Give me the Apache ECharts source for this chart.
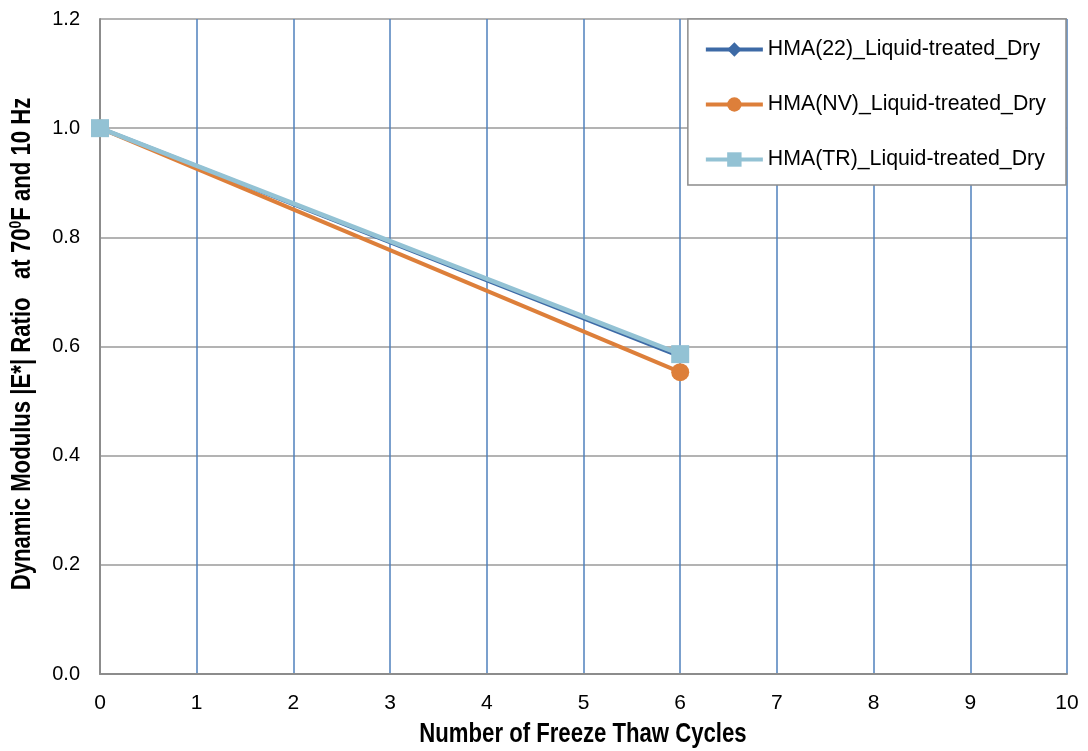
<!DOCTYPE html>
<html>
<head>
<meta charset="utf-8">
<script src="https://cdn.jsdelivr.net/npm/echarts@6/dist/echarts.min.js"></script>
<style>
  html, body { margin: 0; padding: 0; background: #fff; }
  #chart { width: 1088px; height: 751px; }
</style>
</head>
<body>
<div id="chart"></div>
<script>
// Freeze-thaw cycles and |E*| ratios for each mix
const cycles = [0, 6];
const seriesNames = [
  'HMA(22)_Liquid-treated_Dry',
  'HMA(NV)_Liquid-treated_Dry',
  'HMA(TR)_Liquid-treated_Dry'
];
const hma22 = [1.0, 0.582];
const hmaNV = [1.0, 0.553];
const hmaTR = [1.0, 0.586];

const xTicks = [0, 1, 2, 3, 4, 5, 6, 7, 8, 9, 10];
const yTicks = [0.0, 0.2, 0.4, 0.6, 0.8, 1.0, 1.2];

const xTitle = 'Number of Freeze Thaw Cycles';
const yTitleA = 'Dynamic Modulus |E*| Ratio   at 70';
const yTitleSup = '0';
const yTitleB = 'F and 10 Hz';

const font = "'Liberation Sans', Arial, sans-serif";
const narrowScale = 0.82;   // condensed look for the axis titles

function pairs(vals) {
  return cycles.map((c, i) => [c, vals[i]]);
}

const chart = echarts.init(document.getElementById('chart'), null, { renderer: 'canvas' });
chart.setOption({
  animation: false,
  backgroundColor: '#ffffff',
  grid: { left: 100, right: 21, top: 19, bottom: 77, containLabel: false },
  legend: {
    orient: 'vertical',
    right: 22,
    top: 19,
    padding: [20, 20, 15, 16],
    itemGap: 34,
    itemWidth: 57,
    itemHeight: 18,
    backgroundColor: '#ffffff',
    borderColor: '#8c8c8c',
    borderWidth: 1.5,
    lineStyle: { width: 4 },
    textStyle: { fontFamily: font, fontSize: 21.3, color: '#000' },
    data: seriesNames
  },
  // axis titles, horizontally condensed
  graphic: [
    {
      type: 'text',
      x: 583, y: 735,
      scaleX: narrowScale,
      style: {
        text: xTitle,
        font: "bold 27px 'Liberation Sans', Arial, sans-serif",
        fill: '#000',
        align: 'center',
        verticalAlign: 'middle'
      }
    },
    {
      type: 'text',
      x: 23, y: 344,
      rotation: Math.PI / 2,
      scaleX: narrowScale,
      style: {
        text: '{a|' + yTitleA + '}{s|' + yTitleSup + '}{a|' + yTitleB + '}',
        fill: '#000',
        align: 'center',
        verticalAlign: 'middle',
        rich: {
          a: { font: "bold 27px 'Liberation Sans', Arial, sans-serif", fill: '#000' },
          s: { font: "bold 17px 'Liberation Sans', Arial, sans-serif", fill: '#000', verticalAlign: 'top', padding: [0, 0, 13, 0] }
        }
      }
    }
  ],
  xAxis: {
    type: 'value',
    min: xTicks[0],
    max: xTicks[xTicks.length - 1],
    interval: 1,
    axisLine: { show: true, lineStyle: { color: '#8c8c8c', width: 2 } },
    axisTick: { show: false },
    axisLabel: { fontFamily: font, fontSize: 21, color: '#000', margin: 19 },
    splitLine: { show: true, lineStyle: { color: '#4f81bd', width: 1.5 } }
  },
  yAxis: {
    type: 'value',
    min: yTicks[0],
    max: yTicks[yTicks.length - 1],
    interval: 0.2,
    axisLine: { show: true, lineStyle: { color: '#8c8c8c', width: 2 } },
    axisTick: { show: false },
    axisLabel: {
      fontFamily: font, fontSize: 20, color: '#000', margin: 20,
      formatter: v => v.toFixed(1)
    },
    splitLine: { show: true, lineStyle: { color: '#9a9a9a', width: 1.5 } }
  },
  series: [
    {
      name: seriesNames[0], type: 'line', data: pairs(hma22),
      symbol: 'diamond', symbolSize: 14,
      lineStyle: { color: '#3d6aa6', width: 4 },
      itemStyle: { color: '#3d6aa6' }
    },
    {
      name: seriesNames[1], type: 'line', data: pairs(hmaNV),
      symbol: 'circle', symbolSize: 18,
      lineStyle: { color: '#dd7f3a', width: 4 },
      itemStyle: { color: '#dd7f3a' }
    },
    {
      name: seriesNames[2], type: 'line', data: pairs(hmaTR),
      symbol: 'rect', symbolSize: 18,
      lineStyle: { color: '#93c2d4', width: 4.5 },
      itemStyle: { color: '#93c2d4' }
    }
  ]
});
</script>
</body>
</html>
